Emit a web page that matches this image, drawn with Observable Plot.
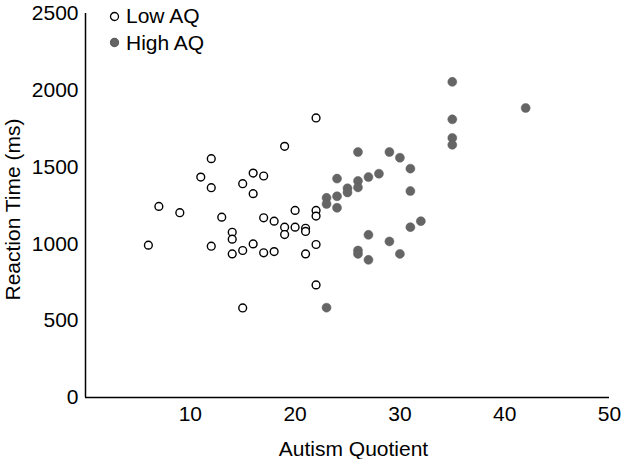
<!DOCTYPE html>
<html>
<head>
<meta charset="utf-8">
<script src="https://cdn.jsdelivr.net/npm/d3@7"></script>
<script src="https://cdn.jsdelivr.net/npm/@observablehq/plot@0.6"></script>
<style>
  body { margin: 0; background: #fff; }
  #wrap { position: relative; width: 624px; height: 459px; font-family: "Liberation Sans", Arial, sans-serif; }
  #legend { position: absolute; left: 109px; top: 3px; font-size: 21px; color: #000; }
  #legend .row { display: flex; align-items: center; height: 26.5px; }
  #legend svg { margin-right: 6px; }
</style>
</head>
<body>
<div id="wrap">
  <div id="chart"></div>
  <div id="legend"></div>
</div>
<script>
// ---- data ----
const lowAQ = [22, 19, 12, 11, 12, 16, 17, 15, 16, 7, 9, 13, 6, 12, 14, 14, 14, 15, 16, 17, 18, 17, 18, 19, 19, 20, 20, 21, 21, 21, 22, 22, 22, 22, 15];
const lowRT = [1820, 1635, 1555, 1435, 1366, 1461, 1442, 1392, 1327, 1244, 1203, 1174, 992, 985, 1076, 1031, 935, 957, 1000, 942, 950, 1170, 1148, 1109, 1061, 1218, 1109, 1102, 1081, 935, 1218, 1181, 996, 733, 583];
const highAQ = [35, 42, 35, 35, 35, 26, 29, 30, 31, 31, 24, 28, 27, 26, 26, 25, 25, 24, 24, 23, 23, 32, 31, 27, 29, 26, 26, 27, 30, 23];
const highRT = [2055, 1885, 1811, 1690, 1645, 1598, 1598, 1561, 1490, 1344, 1425, 1457, 1435, 1410, 1368, 1362, 1335, 1310, 1235, 1300, 1260, 1148, 1109, 1059, 1016, 957, 935, 896, 935, 585];
const xTicks = [10, 20, 30, 40, 50];
const yTicks = [0, 500, 1000, 1500, 2000, 2500];
const xTitle = "Autism Quotient";
const yTitle = "Reaction Time (ms)";
const groupNames = ["Low AQ", "High AQ"];

const low = lowAQ.map((a, i) => ({aq: a, rt: lowRT[i]}));
const high = highAQ.map((a, i) => ({aq: a, rt: highRT[i]}));

const chart = Plot.plot({
  width: 624,
  height: 459,
  marginLeft: 85,
  marginRight: 15,
  marginTop: 13,
  marginBottom: 62,
  style: {fontFamily: "'Liberation Sans', Arial, sans-serif", fontSize: "21px", color: "#000", background: "#fff"},
  x: {domain: [0, 50]},
  y: {domain: [0, 2500]},
  marks: [
    Plot.axisX({ticks: xTicks, tickSize: 0, tickPadding: 9, tickFormat: d => String(d), label: null}),
    Plot.axisY({ticks: yTicks, tickSize: 0, tickPadding: 7, tickFormat: d => String(d), label: null}),
    Plot.ruleX([0], {stroke: "#000", strokeWidth: 1.5}),
    Plot.ruleY([0], {stroke: "#000", strokeWidth: 1.5}),
    Plot.text([xTitle], {text: d => d, frameAnchor: "bottom", dx: 6, dy: 58, lineAnchor: "bottom", fontSize: 21, fill: "#000"}),
    Plot.text([yTitle], {text: d => d, frameAnchor: "left", textAnchor: "middle", dx: -72, dy: 4, rotate: -90, fontSize: 21, fill: "#000"}),
    Plot.dot(low, {x: "aq", y: "rt", r: 3.9, fill: "#fff", stroke: "#000", strokeWidth: 1.4}),
    Plot.dot(high, {x: "aq", y: "rt", r: 4.5, fill: "#656565", stroke: "#5e5e5e", strokeWidth: 0.5})
  ]
});
document.getElementById("chart").appendChild(chart);

const legend = document.getElementById("legend");
const legendStyles = [
  {fill: "#fff", stroke: "#000"},
  {fill: "#656565", stroke: "#5e5e5e"}
];
groupNames.forEach((name, i) => {
  const row = document.createElement("div");
  row.className = "row";
  row.innerHTML = `<svg width="11" height="11"><circle cx="5.5" cy="5.5" r="4" fill="${legendStyles[i].fill}" stroke="${legendStyles[i].stroke}" stroke-width="1.3"></circle></svg><span>${name}</span>`;
  legend.appendChild(row);
});
</script>
</body>
</html>
